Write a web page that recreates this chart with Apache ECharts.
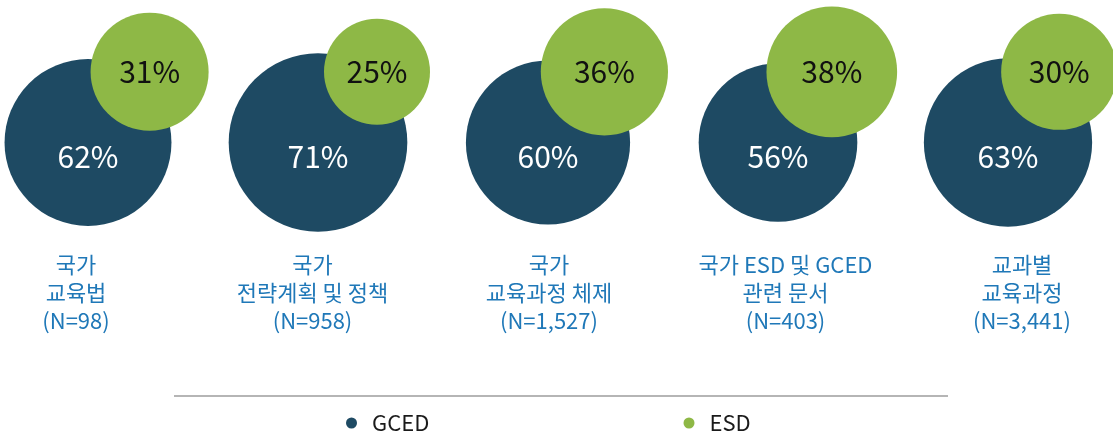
<!DOCTYPE html>
<html>
<head>
<meta charset="utf-8">
<script src="https://cdn.jsdelivr.net/npm/echarts@6/dist/echarts.min.js"></script>
<style>
html,body{margin:0;padding:0;background:#fff;}
#chart{width:1113px;height:448px;}
</style>
</head>
<body>
<div id="chart"></div>
<script>
// ---- data ----
const categories = ['국가\n교육법', '국가\n전략계획 및 정책', '국가\n교육과정 체제', '국가 ESD 및 GCED\n관련 문서', '교과별\n교육과정'];
const sampleSizes = ['(N=98)', '(N=958)', '(N=1,527)', '(N=403)', '(N=3,441)'];
const gcedValues = [62, 71, 60, 56, 63];
const esdValues = [31, 25, 36, 38, 30];
const seriesNames = ['GCED', 'ESD'];

// ---- styles ----
const FONT = 'Noto Sans CJK KR';
const NAVY = '#1e4a63';
const GREEN = '#8eb846';
const LABEL_BLUE = '#1f78b8';
const SIZE_K = 21.2; // diameter per sqrt(percent)

const chart = echarts.init(document.getElementById('chart'), null, {renderer: 'canvas'});

const option = {
  animation: false,
  backgroundColor: '#ffffff',
  grid: [
    {left: 88, right: 105, top: 100, height: 85},
    {left: 149.6, right: 53.8, top: 30, height: 83.6},
    {left: 76, right: 91, top: 200, height: 43}
  ],
  xAxis: [
    {gridIndex: 0, type: 'category', data: categories, boundaryGap: false, show: false},
    {gridIndex: 1, type: 'category', data: categories, boundaryGap: false, show: false},
    {
      gridIndex: 2, type: 'category', data: categories, boundaryGap: false,
      axisLine: {show: false}, axisTick: {show: false}, splitLine: {show: false},
      axisLabel: {
        interval: 0, hideOverlap: false, margin: 8,
        fontFamily: FONT, fontSize: 22, lineHeight: 28, color: LABEL_BLUE,
        align: 'center',
        formatter: function (v, i) { return v + '\n' + sampleSizes[i]; }
      }
    }
  ],
  yAxis: [
    {gridIndex: 0, type: 'category', data: [seriesNames[0]], show: false},
    {gridIndex: 1, type: 'category', data: [seriesNames[1]], show: false},
    {gridIndex: 2, type: 'value', show: false}
  ],
  legend: [
    {
      data: [seriesNames[0]], left: 346, top: 412, padding: 0, icon: 'circle',
      itemWidth: 11, itemHeight: 11, selectedMode: false,
      textStyle: {fontFamily: FONT, fontSize: 22, color: '#1a1a1a', padding: [0, 0, 0, 10]}
    },
    {
      data: [seriesNames[1]], left: 683.5, top: 412, padding: 0, icon: 'circle',
      itemWidth: 11, itemHeight: 11, selectedMode: false,
      textStyle: {fontFamily: FONT, fontSize: 22, color: '#1a1a1a', padding: [0, 0, 0, 10]}
    }
  ],
  graphic: [
    {type: 'line', shape: {x1: 174, y1: 396, x2: 948, y2: 396}, style: {stroke: '#b5b5b5', lineWidth: 2}, silent: true}
  ],
  series: [
    {
      name: seriesNames[0], type: 'scatter', xAxisIndex: 0, yAxisIndex: 0, clip: false,
      symbol: 'circle',
      symbolSize: function (d) { return SIZE_K * Math.sqrt(d[2]); },
      itemStyle: {color: NAVY, opacity: 1},
      label: {
        show: true, position: 'inside', offset: [0, 14],
        fontFamily: FONT, fontSize: 30, color: '#ffffff',
        formatter: function (p) { return p.value[2] + '%'; }
      },
      emphasis: {disabled: true},
      data: gcedValues.map(function (v, i) { return [categories[i], seriesNames[0], v]; })
    },
    {
      name: seriesNames[1], type: 'scatter', xAxisIndex: 1, yAxisIndex: 1, clip: false,
      symbol: 'circle',
      symbolSize: function (d) { return SIZE_K * Math.sqrt(d[2]); },
      itemStyle: {color: GREEN, opacity: 1},
      label: {
        show: true, position: 'inside',
        fontFamily: FONT, fontSize: 30, color: '#111111',
        formatter: function (p) { return p.value[2] + '%'; }
      },
      emphasis: {disabled: true},
      data: esdValues.map(function (v, i) { return [categories[i], seriesNames[1], v]; })
    }
  ]
};

chart.setOption(option);
</script>
</body>
</html>
